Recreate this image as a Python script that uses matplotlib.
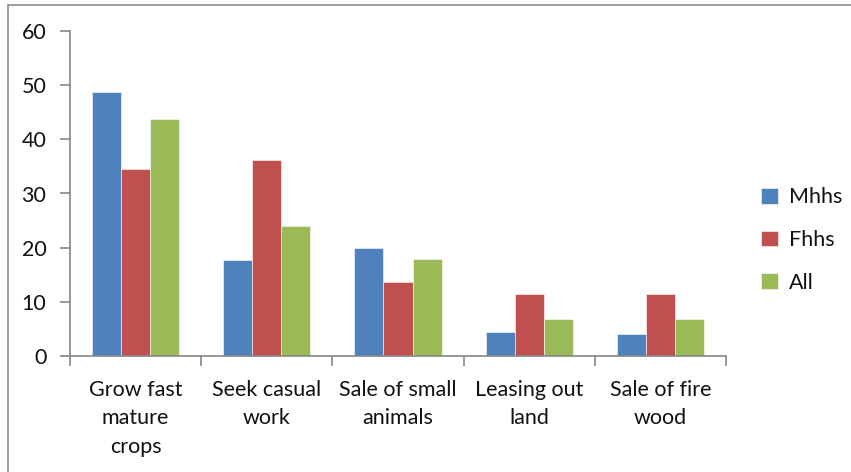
import numpy as np
import matplotlib.pyplot as plt
from matplotlib.patches import Rectangle

plt.rcParams['font.family'] = ['Lato', 'DejaVu Sans']

categories = ["Grow fast\nmature\ncrops", "Seek casual\nwork", "Sale of small\nanimals",
              "Leasing out\nland", "Sale of fire\nwood"]
series_names = ["Mhhs", "Fhhs", "All"]
mhhs = [48.7, 17.7, 19.9, 4.4, 4.1]
fhhs = [34.5, 36.2, 13.7, 11.4, 11.4]
all_hh = [43.8, 24.0, 17.9, 6.8, 6.8]
colors = ["#4F81BD", "#C0504D", "#9BBB59"]

fig = plt.figure(figsize=(8.51, 4.72), dpi=100)
fig.patches.append(Rectangle((8 / 851, -0.1), 1.1, 1.1 - 5 / 472, transform=fig.transFigure,
                             fill=False, edgecolor="#8C8C8C", linewidth=1.2))
ax = fig.add_axes([70 / 851, 1 - 356 / 472, 656 / 851, 325 / 472])

x = np.arange(len(categories))
w = 0.222
for i, (vals, name) in enumerate(zip([mhhs, fhhs, all_hh], series_names)):
    ax.bar(x + (i - 1) * w, vals, width=w, color=colors[i], label=name,
           edgecolor="white", linewidth=0.4)

ax.set_xlim(-0.5, len(categories) - 0.5)
ax.set_ylim(0, 60)
ax.set_yticks(range(0, 61, 10))
ax.set_xticks(x)
ax.set_xticklabels(categories, fontsize=15.5, linespacing=1.55, va="top", color="#111111")
ax.set_xticks(np.arange(len(categories) + 1) - 0.5, minor=True)
ax.tick_params(axis="x", which="major", length=0, pad=17)
ax.tick_params(axis="x", which="minor", length=7, color="#868686", width=1.2, direction="out")
ax.tick_params(axis="y", length=7, color="#868686", width=1.2, direction="out",
               labelsize=15.5, pad=10, labelcolor="#111111")

for s in ["top", "right"]:
    ax.spines[s].set_visible(False)
for s in ["left", "bottom"]:
    ax.spines[s].set_color("#868686")
    ax.spines[s].set_linewidth(1.2)

leg = ax.legend(loc="center left", bbox_to_anchor=(1.054, 0.357), frameon=False, fontsize=15.5,
                handlelength=0.75, handleheight=0.75, labelspacing=1.05, handletextpad=0.55,
                borderaxespad=0, borderpad=0)
for t in leg.get_texts():
    t.set_color("#111111")

fig.savefig("out.png", dpi=100)
